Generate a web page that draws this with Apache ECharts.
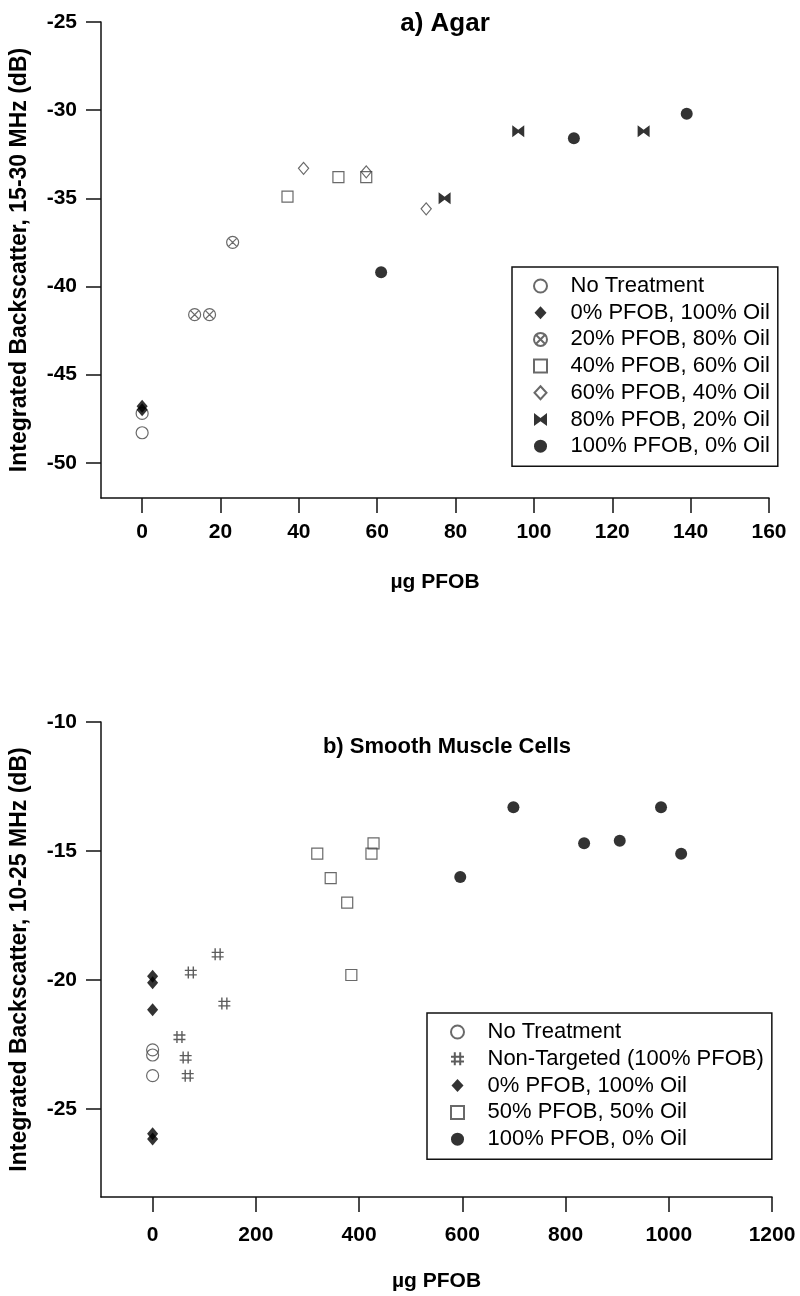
<!DOCTYPE html>
<html><head><meta charset="utf-8">
<script src="https://cdn.jsdelivr.net/npm/echarts@6/dist/echarts.min.js"></script>
<style>html,body{margin:0;padding:0;background:#fff}#c{width:800px;height:1296px}</style>
</head><body><div id="c"></div>
<script>
// ---------- Panel a) Agar ----------
const agarNoTreatment = [[0,-47.2],[0,-48.3]];
const agarPFOB0  = [[0,-46.8],[0,-47.0]];
const agarPFOB20 = [[13.4,-41.6],[17.2,-41.6],[23.1,-37.5]];
const agarPFOB40 = [[37.1,-34.9],[50.1,-33.8],[57.2,-33.8]];
const agarPFOB60 = [[41.2,-33.3],[57.2,-33.5],[72.5,-35.6]];
const agarPFOB80 = [[77.2,-35.0],[96,-31.2],[128,-31.2]];
const agarPFOB100 = [[61,-39.2],[110.2,-31.6],[139,-30.2]];
const agarXTicks = [0,20,40,60,80,100,120,140,160];
const agarYTicks = [-50,-45,-40,-35,-30,-25];

// ---------- Panel b) Smooth Muscle Cells ----------
const smcNoTreatment = [[0,-22.7],[0,-22.9],[0,-23.7]];
const smcNonTargeted = [[126,-19.0],[74,-19.7],[139,-20.9],[52,-22.2],[64,-23.0],[68,-23.7]];
const smcPFOB0  = [[0,-19.85],[0,-20.1],[0,-21.15],[0,-25.95],[0,-26.15]];
const smcPFOB50 = [[319,-15.1],[345,-16.05],[377,-17.0],[385,-19.8],[428,-14.7],[424,-15.1]];
const smcPFOB100 = [[596,-16.0],[699,-13.3],[836,-14.7],[905,-14.6],[985,-13.3],[1024,-15.1]];
const smcXTicks = [0,200,400,600,800,1000,1200];
const smcYTicks = [-25,-20,-15,-10];

const FONT = "'Liberation Sans', Arial, sans-serif";
const AXC = '#111';
const OPEN = {color:'rgba(0,0,0,0)', borderColor:'#444', borderWidth:1.2};
const FILL = {color:'#000'};
const SYM = {
  circle:'circle',
  diamond:'path://M6,0 L12,6.5 L6,13 L0,6.5 Z',
  square:'path://M0,0 L10,0 L10,10 L0,10 Z',
  cross:'path://M0,6 A6,6 0 1 1 12,6 A6,6 0 1 1 0,6 Z M2.2,2.2 L9.8,9.8 M9.8,2.2 L2.2,9.8',
  bowtie:'path://M0,0 L6,4.5 L12,0 L12,12 L6,7.5 L0,12 Z',
  hash:'path://M3.5,0 L3.5,12 M8.5,0 L8.5,12 M0,4 L12,4 M0,8.5 L12,8.5'
};

function sc(name, data, gi, symbol, size, style){
  return {type:'scatter', name, data, xAxisIndex:gi, yAxisIndex:gi, symbol, symbolSize:size,
    symbolKeepAspect:true, itemStyle:style, emphasis:{disabled:true}, animation:false, z:2};
}
const plain = v => String(v);

function xAxis(gi, min, max, ticks, margin){
  return {type:'value', gridIndex:gi, min, max,
    name:'µg PFOB', nameLocation:'middle', nameGap:74,
    nameTextStyle:{fontFamily:FONT, fontWeight:'bold', fontSize:21, color:'#000'},
    axisLine:{onZero:false, lineStyle:{color:AXC, width:1.5}},
    axisTick:{show:true, length:15, inside:false, customValues:ticks, lineStyle:{color:AXC, width:1.5}},
    axisLabel:{customValues:ticks, formatter:plain, margin, fontFamily:FONT, fontWeight:'bold', fontSize:21, color:'#000'},
    splitLine:{show:false}};
}
function yAxis(gi, min, max, ticks, name){
  return {type:'value', gridIndex:gi, min, max,
    name, nameLocation:'middle', nameGap:70, nameRotate:90,
    nameTextStyle:{fontFamily:FONT, fontWeight:'bold', fontSize:23, color:'#000'},
    axisLine:{show:true, onZero:false, lineStyle:{color:AXC, width:1.5}},
    axisTick:{show:true, length:15, customValues:ticks, lineStyle:{color:AXC, width:1.5}},
    axisLabel:{customValues:ticks, formatter:plain, margin:24, fontFamily:FONT, fontWeight:'bold', fontSize:21, color:'#000'},
    splitLine:{show:false}};
}
function legend(names, left, top, gap, padLeft){
  return {orient:'vertical', left, top, data:names, selectedMode:false,
    itemWidth:14, itemHeight:13, itemGap:gap,
    padding:[8,8,9,padLeft], borderColor:'#111', borderWidth:1.5, backgroundColor:'#fff',
    textStyle:{fontFamily:FONT, fontSize:22, color:'#000', lineHeight:22, padding:[0,0,0,18]}};
}

const chart = echarts.init(document.getElementById('c'), null, {renderer:'canvas'});
chart.setOption({
  animation:false,
  backgroundColor:'#fff',
  title:[
    {text:'a) Agar', left:440, top:6, textAlign:'center',
     textStyle:{fontFamily:FONT, fontWeight:'bold', fontSize:26, color:'#000'}},
    {text:'b) Smooth Muscle Cells', left:442, top:731, textAlign:'center',
     textStyle:{fontFamily:FONT, fontWeight:'bold', fontSize:22, color:'#000'}}
  ],
  grid:[
    {left:100, top:22, width:669, height:476},
    {left:100, top:722, width:672, height:475}
  ],
  xAxis:[xAxis(0,-10.5,160,agarXTicks,24), xAxis(1,-100,1200,smcXTicks,28)],
  yAxis:[yAxis(0,-52,-25,agarYTicks,'Integrated Backscatter, 15-30 MHz (dB)'),
         yAxis(1,-28.4,-10,smcYTicks,'Integrated Backscatter, 10-25 MHz (dB)')],
  legend:[
    legend(['No Treatment','0% PFOB, 100% Oil','20% PFOB, 80% Oil','40% PFOB, 60% Oil','60% PFOB, 40% Oil','80% PFOB, 20% Oil','100% PFOB, 0% Oil'], 512, 267, 4.7, 21),
    legend(['No Treatment','Non-Targeted (100% PFOB)','0% PFOB, 100% Oil','50% PFOB, 50% Oil','100% PFOB, 0% Oil'], 427, 1013, 4.8, 23)
  ],
  series:[
    sc('No Treatment', agarNoTreatment, 0, SYM.circle, 12, OPEN),
    sc('0% PFOB, 100% Oil', agarPFOB0, 0, SYM.diamond, [12,13], FILL),
    sc('20% PFOB, 80% Oil', agarPFOB20, 0, SYM.cross, 12, OPEN),
    sc('40% PFOB, 60% Oil', agarPFOB40, 0, SYM.square, 11, OPEN),
    sc('60% PFOB, 40% Oil', agarPFOB60, 0, SYM.diamond, [11,12], OPEN),
    sc('80% PFOB, 20% Oil', agarPFOB80, 0, SYM.bowtie, 12, FILL),
    sc('100% PFOB, 0% Oil', agarPFOB100, 0, SYM.circle, 12, FILL),

    sc('No Treatment', smcNoTreatment, 1, SYM.circle, 12, OPEN),
    sc('Non-Targeted (100% PFOB)', smcNonTargeted, 1, SYM.hash, 12, {color:'rgba(0,0,0,0)', borderColor:'#333', borderWidth:1.4}),
    sc('0% PFOB, 100% Oil', smcPFOB0, 1, SYM.diamond, [12,13], FILL),
    sc('50% PFOB, 50% Oil', smcPFOB50, 1, SYM.square, 11, OPEN),
    sc('100% PFOB, 0% Oil', smcPFOB100, 1, SYM.circle, 12, FILL)
  ]
});
</script></body></html>
